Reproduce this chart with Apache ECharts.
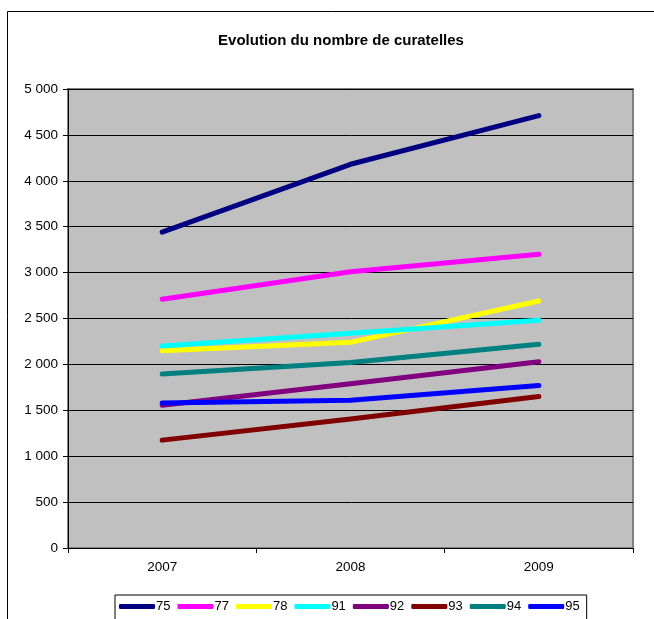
<!DOCTYPE html>
<html>
<head>
<meta charset="utf-8">
<script src="https://cdn.jsdelivr.net/npm/echarts@6/dist/echarts.min.js"></script>
<style>
  html, body { margin: 0; padding: 0; background: #fff; }
  #chart { width: 654px; height: 619px; }
</style>
</head>
<body>
<div id="chart"></div>
<script>
// Nombre de curatelles par département, 2007-2009
const years = ['2007', '2008', '2009'];
const departements = ['75', '77', '78', '91', '92', '93', '94', '95'];
const couleurs = ['#000080', '#FF00FF', '#FFFF00', '#00FFFF', '#800080', '#800000', '#008080', '#0000FF'];

const dep75 = [3440, 4180, 4710];
const dep77 = [2710, 3010, 3200];
const dep78 = [2150, 2240, 2690];
const dep91 = [2200, 2340, 2480];
const dep92 = [1555, 1790, 2030];
const dep93 = [1175, 1405, 1650];
const dep94 = [1895, 2020, 2220];
const dep95 = [1580, 1610, 1770];

const valeurs = [dep75, dep77, dep78, dep91, dep92, dep93, dep94, dep95];

const fmt = v => String(v).replace(/\B(?=(\d{3})+(?!\d))/g, ' ');

const chart = echarts.init(document.getElementById('chart'), null, { renderer: 'canvas' });

chart.setOption({
  animation: false,
  textStyle: { fontFamily: 'Liberation Sans, Arial, sans-serif' },
  title: {
    text: 'Evolution du nombre de curatelles',
    left: 336, top: 28, textAlign: 'center',
    textStyle: { fontSize: 15, fontWeight: 'bold', color: '#000' }
  },
  graphic: [{
    type: 'rect', z: -10,
    shape: { x: 7.5, y: 11.5, width: 700, height: 700 },
    style: { fill: 'none', stroke: '#000', lineWidth: 1 }
  }],
  grid: {
    left: 68, top: 89, width: 565, height: 459,
    show: true, backgroundColor: '#C0C0C0', borderColor: '#808080', borderWidth: 2
  },
  legend: {
    data: departements,
    left: 115, top: 595,
    orient: 'horizontal',
    padding: [5, 7, 10, 4],
    borderColor: '#000', borderWidth: 1,
    itemWidth: 36, itemHeight: 5, itemGap: 7,
    icon: 'roundRect',
    textStyle: { fontSize: 13, color: '#000', padding: [0, 0, 0, -4] }
  },
  xAxis: {
    type: 'category', data: years, boundaryGap: true,
    axisLine: { lineStyle: { color: '#000', width: 1 } },
    axisTick: { show: true, length: 5, lineStyle: { color: '#000' } },
    axisLabel: { fontSize: 13.5, color: '#000', margin: 12 },
    splitLine: { show: false }
  },
  yAxis: {
    type: 'value', min: 0, max: 5000, interval: 500,
    axisLine: { show: true, lineStyle: { color: '#000', width: 1 } },
    axisTick: { show: true, length: 5, lineStyle: { color: '#000' } },
    axisLabel: { fontSize: 13.5, color: '#000', margin: 10, formatter: fmt },
    splitLine: { show: true, lineStyle: { color: '#000', width: 1 } }
  },
  series: departements.map((d, i) => ({
    name: d, type: 'line', data: valeurs[i],
    symbol: 'none', smooth: false,
    color: couleurs[i],
    lineStyle: { width: 5, color: couleurs[i], cap: 'round', join: 'round' }
  }))
});
</script>
</body>
</html>
